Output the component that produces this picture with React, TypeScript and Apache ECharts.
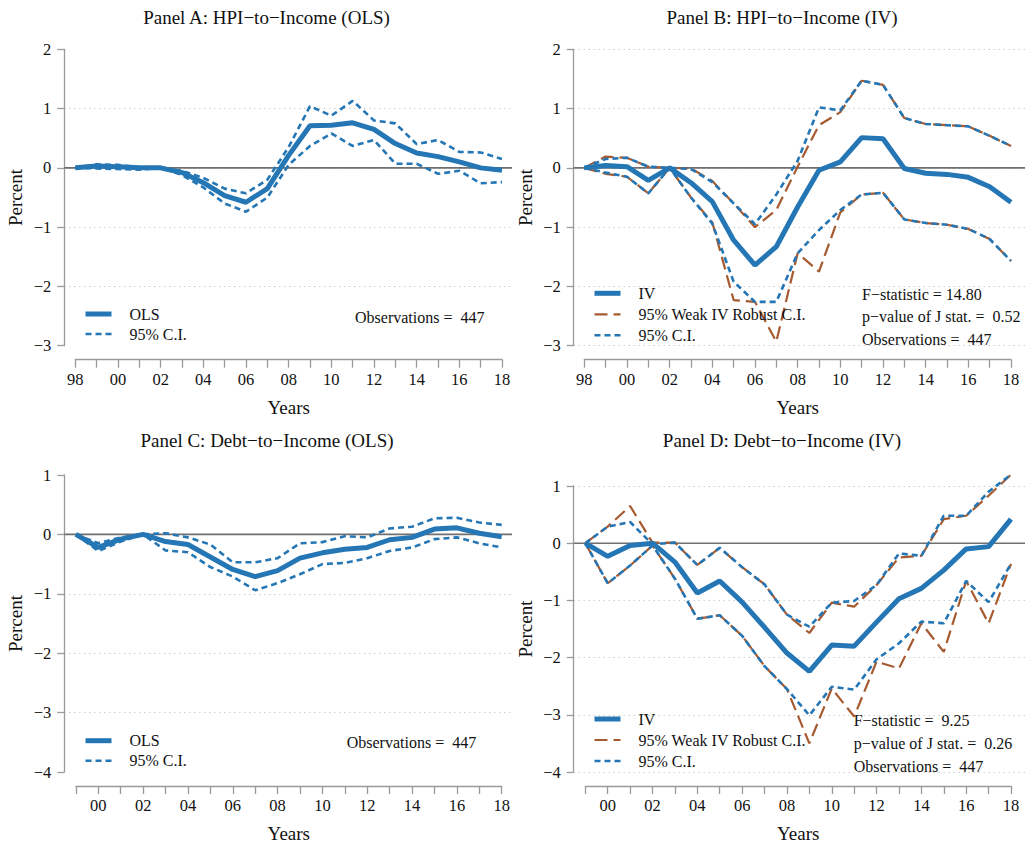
import React, { useEffect, useRef } from 'react';
import * as echarts from 'echarts';

// ---------- data ----------
const yearsAB = [1998, 1999, 2000, 2001, 2002, 2003, 2004, 2005, 2006, 2007, 2008, 2009, 2010, 2011, 2012, 2013, 2014, 2015, 2016, 2017, 2018];
const yearsCD = [1999, 2000, 2001, 2002, 2003, 2004, 2005, 2006, 2007, 2008, 2009, 2010, 2011, 2012, 2013, 2014, 2015, 2016, 2017, 2018];
const yTicksAB = [-3, -2, -1, 0, 1, 2];
const yTicksCD = [-4, -3, -2, -1, 0, 1];

// Panel A: HPI-to-Income (OLS)
const olsA = [0, 0.03, 0.02, 0.0, 0.0, -0.08, -0.25, -0.47, -0.58, -0.35, 0.21, 0.71, 0.72, 0.76, 0.65, 0.41, 0.25, 0.19, 0.1, 0.0, -0.04];
const ciUpA = [0, 0.06, 0.05, 0.01, 0.0, -0.05, -0.17, -0.35, -0.43, -0.2, 0.35, 1.04, 0.88, 1.13, 0.8, 0.75, 0.4, 0.47, 0.27, 0.26, 0.15];
const ciLoA = [0, -0.01, -0.02, -0.03, 0.0, -0.12, -0.33, -0.6, -0.74, -0.5, 0.05, 0.37, 0.58, 0.37, 0.47, 0.07, 0.07, -0.1, -0.05, -0.26, -0.24];

// Panel B: HPI-to-Income (IV)
const ivB = [0, 0.04, 0.02, -0.21, 0.0, -0.25, -0.57, -1.22, -1.64, -1.33, -0.66, -0.04, 0.1, 0.51, 0.49, -0.01, -0.09, -0.11, -0.16, -0.32, -0.58];
const weakUpB = [0, 0.19, 0.17, 0.02, 0.0, -0.01, -0.22, -0.6, -1.0, -0.71, 0.02, 0.72, 0.94, 1.47, 1.4, 0.84, 0.74, 0.72, 0.7, 0.54, 0.37];
const weakLoB = [0, -0.1, -0.15, -0.43, 0.0, -0.5, -0.92, -2.23, -2.26, -2.93, -1.44, -1.75, -0.75, -0.45, -0.42, -0.87, -0.93, -0.96, -1.03, -1.2, -1.57];
const ciUpB = [0, 0.15, 0.17, 0.02, 0.0, -0.02, -0.24, -0.6, -0.95, -0.45, 0.12, 1.02, 0.97, 1.47, 1.4, 0.84, 0.74, 0.72, 0.7, 0.54, 0.37];
const ciLoB = [0, -0.08, -0.15, -0.43, 0.0, -0.5, -0.94, -1.92, -2.26, -2.26, -1.44, -1.05, -0.71, -0.45, -0.42, -0.87, -0.93, -0.96, -1.03, -1.2, -1.57];

// Panel C: Debt-to-Income (OLS)
const olsC = [0, -0.22, -0.08, 0.0, -0.12, -0.17, -0.38, -0.59, -0.71, -0.61, -0.4, -0.31, -0.25, -0.22, -0.09, -0.05, 0.09, 0.11, 0.02, -0.04];
const ciUpC = [0, -0.15, -0.05, 0.0, 0.02, -0.05, -0.17, -0.47, -0.47, -0.4, -0.15, -0.13, -0.03, -0.05, 0.1, 0.13, 0.27, 0.28, 0.2, 0.16];
const ciLoC = [0, -0.28, -0.12, 0.0, -0.27, -0.3, -0.55, -0.71, -0.94, -0.82, -0.67, -0.5, -0.48, -0.4, -0.28, -0.22, -0.08, -0.05, -0.15, -0.22];

// Panel D: Debt-to-Income (IV)
const ivD = [0, -0.23, -0.04, 0.0, -0.33, -0.87, -0.66, -1.03, -1.47, -1.92, -2.24, -1.78, -1.8, -1.38, -0.97, -0.79, -0.47, -0.1, -0.06, 0.42];
const weakUpD = [0, 0.29, 0.65, 0.01, 0.01, -0.38, -0.08, -0.42, -0.72, -1.25, -1.57, -1.04, -1.11, -0.73, -0.25, -0.22, 0.42, 0.48, 0.83, 1.2];
const weakLoD = [0, -0.7, -0.39, -0.04, -0.62, -1.32, -1.26, -1.62, -2.15, -2.55, -3.5, -2.54, -3.03, -2.07, -2.19, -1.4, -1.9, -0.66, -1.4, -0.36];
const ciUpD = [0, 0.29, 0.37, -0.02, 0.01, -0.38, -0.08, -0.42, -0.72, -1.25, -1.46, -1.04, -1.01, -0.73, -0.18, -0.22, 0.48, 0.48, 0.9, 1.2];
const ciLoD = [0, -0.7, -0.39, -0.04, -0.62, -1.32, -1.26, -1.62, -2.15, -2.55, -3.01, -2.51, -2.56, -2.03, -1.75, -1.37, -1.4, -0.66, -1.03, -0.36];

// ---------- styles ----------
const FONT = '"Liberation Serif", "Times New Roman", Times, serif';
const BLUE = '#2576b4';
const BROWN = '#a65a30';
const TXT = '#111111';
const AXIS = '#9a9a9a';

const LINE_STYLES: Record<string, any> = {
  main: { color: BLUE, width: 5, type: 'solid' },
  ci: { color: BLUE, width: 2.6, type: [6, 4] },
  weak: { color: BROWN, width: 2.2, type: [13, 6] },
};

const minus = (v: number) => (v < 0 ? '\u2212' + Math.abs(v) : String(v));

type SeriesDef = { name: string; data: number[]; kind: string };

const panels = [
  {
    title: 'Panel A: HPI\u2212to\u2212Income (OLS)',
    titlePos: [266.5, 17],
    years: yearsAB,
    ticks: yTicksAB,
    frame: { left: 64.3, top: 49.3, width: 447.7, height: 296.4 },
    dataLeft: 75.3,
    dataWidth: 426.7,
    edgeGrid: false,
    series: [
      { name: '95% C.I.', data: ciUpA, kind: 'ci' },
      { name: '95% C.I.', data: ciLoA, kind: 'ci' },
      { name: 'OLS', data: olsA, kind: 'main' },
    ] as SeriesDef[],
    legendNames: ['OLS', '95% C.I.'],
    legendPos: { left: 83, top: 306, gap: 4 },
    stats: ['Observations =  447'],
    statsPos: { x: 355, y: 317, step: 22.5 },
  },
  {
    title: 'Panel B: HPI\u2212to\u2212Income (IV)',
    titlePos: [782, 17],
    years: yearsAB,
    ticks: yTicksAB,
    frame: { left: 573.7, top: 49.3, width: 451.3, height: 296.4 },
    dataLeft: 584.3,
    dataWidth: 426.7,
    edgeGrid: true,
    series: [
      { name: '95% Weak IV Robust C.I.', data: weakUpB, kind: 'weak' },
      { name: '95% Weak IV Robust C.I.', data: weakLoB, kind: 'weak' },
      { name: '95% C.I.', data: ciUpB, kind: 'ci' },
      { name: '95% C.I.', data: ciLoB, kind: 'ci' },
      { name: 'IV', data: ivB, kind: 'main' },
    ] as SeriesDef[],
    legendNames: ['IV', '95% Weak IV Robust C.I.', '95% C.I.'],
    legendPos: { left: 592, top: 285.3, gap: 5 },
    stats: ['F\u2212statistic = 14.80', 'p\u2212value of J stat. =  0.52', 'Observations =  447'],
    statsPos: { x: 862, y: 294, step: 22.5 },
  },
  {
    title: 'Panel C: Debt\u2212to\u2212Income (OLS)',
    titlePos: [267, 440],
    years: yearsCD,
    ticks: yTicksCD,
    frame: { left: 64.3, top: 475, width: 447.7, height: 297 },
    dataLeft: 75.9,
    dataWidth: 425.8,
    edgeGrid: false,
    series: [
      { name: '95% C.I.', data: ciUpC, kind: 'ci' },
      { name: '95% C.I.', data: ciLoC, kind: 'ci' },
      { name: 'OLS', data: olsC, kind: 'main' },
    ] as SeriesDef[],
    legendNames: ['OLS', '95% C.I.'],
    legendPos: { left: 83, top: 732.7, gap: 4 },
    stats: ['Observations =  447'],
    statsPos: { x: 346.7, y: 742.7, step: 22.5 },
  },
  {
    title: 'Panel D: Debt\u2212to\u2212Income (IV)',
    titlePos: [782, 440],
    years: yearsCD,
    ticks: yTicksCD,
    frame: { left: 573.7, top: 486, width: 451.3, height: 286 },
    dataLeft: 585.3,
    dataWidth: 425.7,
    edgeGrid: true,
    series: [
      { name: '95% Weak IV Robust C.I.', data: weakUpD, kind: 'weak' },
      { name: '95% Weak IV Robust C.I.', data: weakLoD, kind: 'weak' },
      { name: '95% C.I.', data: ciUpD, kind: 'ci' },
      { name: '95% C.I.', data: ciLoD, kind: 'ci' },
      { name: 'IV', data: ivD, kind: 'main' },
    ] as SeriesDef[],
    legendNames: ['IV', '95% Weak IV Robust C.I.', '95% C.I.'],
    legendPos: { left: 592, top: 711, gap: 5 },
    stats: ['F\u2212statistic =  9.25', 'p\u2212value of J stat. =  0.26', 'Observations =  447'],
    statsPos: { x: 853.7, y: 720.7, step: 23 },
  },
];

function buildOption() {
  const grid: any[] = [];
  const xAxis: any[] = [];
  const yAxis: any[] = [];
  const series: any[] = [];
  const legend: any[] = [];
  const graphic: any[] = [];

  panels.forEach((p, i) => {
    const fi = i * 2;
    const di = i * 2 + 1;
    const yMin = p.ticks[0];
    const yMax = p.ticks[p.ticks.length - 1];

    grid.push({ left: p.frame.left, top: p.frame.top, width: p.frame.width, height: p.frame.height, containLabel: false });
    grid.push({ left: p.dataLeft, top: p.frame.top, width: p.dataWidth, height: p.frame.height, containLabel: false });

    xAxis.push({ gridIndex: fi, type: 'value', min: 0, max: 1, show: false });
    xAxis.push({
      gridIndex: di,
      type: 'category',
      position: 'bottom',
      data: p.years.map(String),
      boundaryGap: false,
      offset: 14,
      axisLine: { show: true, onZero: false, lineStyle: { color: AXIS, width: 1.3 } },
      axisTick: { show: true, interval: 0, length: 8, inside: false, lineStyle: { color: AXIS, width: 1.3 } },
      axisLabel: {
        interval: (_idx: number, v: string) => Number(v) % 2 === 0,
        formatter: (v: string) => v.slice(2),
        margin: 11,
        color: TXT,
        fontFamily: FONT,
        fontSize: 16.5,
      },
      splitLine: { show: false },
      name: 'Years',
      nameLocation: 'middle',
      nameGap: 38,
      nameTextStyle: { fontFamily: FONT, fontSize: 19, color: TXT },
    });

    yAxis.push({
      gridIndex: fi,
      type: 'value',
      min: yMin,
      max: yMax,
      interval: 1,
      axisLine: { show: true, lineStyle: { color: AXIS, width: 1.3 } },
      axisTick: { show: true, length: 7, inside: false, lineStyle: { color: AXIS, width: 1.3 } },
      axisLabel: { margin: 13, color: TXT, fontFamily: FONT, fontSize: 16.5, formatter: (v: number) => minus(v) },
      splitLine: {
        show: true,
        showMinLine: p.edgeGrid,
        showMaxLine: p.edgeGrid,
        lineStyle: { color: '#b5b5b5', width: 1, type: [1, 4] },
      },
      name: 'Percent',
      nameLocation: 'middle',
      nameGap: 39,
      nameRotate: 90,
      nameTextStyle: { fontFamily: FONT, fontSize: 19, color: TXT },
    });
    yAxis.push({ gridIndex: di, type: 'value', min: yMin, max: yMax, show: false });

    series.push({
      type: 'line',
      xAxisIndex: fi,
      yAxisIndex: fi,
      data: [[0, 0], [1, 0]],
      symbol: 'none',
      silent: true,
      z: 1,
      lineStyle: { color: '#707070', width: 1.6 },
    });

    p.series.forEach((s) => {
      series.push({
        type: 'line',
        name: s.name,
        xAxisIndex: di,
        yAxisIndex: di,
        data: s.data,
        symbol: 'none',
        clip: false,
        z: s.kind === 'main' ? 5 : s.kind === 'ci' ? 4 : 3,
        color: LINE_STYLES[s.kind].color,
        lineStyle: { ...LINE_STYLES[s.kind] },
      });
    });

    legend.push({
      data: p.legendNames,
      orient: 'vertical',
      left: p.legendPos.left,
      top: p.legendPos.top,
      itemWidth: 26,
      itemHeight: 14,
      itemGap: p.legendPos.gap,
      padding: 0,
      selectedMode: false,
      itemStyle: { opacity: 0, borderWidth: 0 },
      lineStyle: { width: 'inherit', type: 'inherit' },
      textStyle: { fontFamily: FONT, fontSize: 16, color: TXT, padding: [0, 0, 0, 13] },
    });

    graphic.push({
      type: 'text',
      x: p.titlePos[0],
      y: p.titlePos[1],
      style: { text: p.title, fontFamily: FONT, fontSize: 19, fill: TXT, align: 'center', verticalAlign: 'middle' },
    });
    p.stats.forEach((t, k) => {
      graphic.push({
        type: 'text',
        x: p.statsPos.x,
        y: p.statsPos.y + k * p.statsPos.step,
        style: { text: t, fontFamily: FONT, fontSize: 16, fill: TXT, align: 'left', verticalAlign: 'middle' },
      });
    });
  });

  return { animation: false, backgroundColor: '#ffffff', grid, xAxis, yAxis, series, legend, graphic };
}

export default function App() {
  const ref = useRef<HTMLDivElement>(null);
  useEffect(() => {
    if (!ref.current) return;
    const chart = echarts.init(ref.current, undefined, { renderer: 'svg' });
    chart.setOption(buildOption() as any);
    return () => chart.dispose();
  }, []);
  return <div ref={ref} style={{ position: 'absolute', left: 0, top: 0, width: 1025, height: 846 }} />;
}
